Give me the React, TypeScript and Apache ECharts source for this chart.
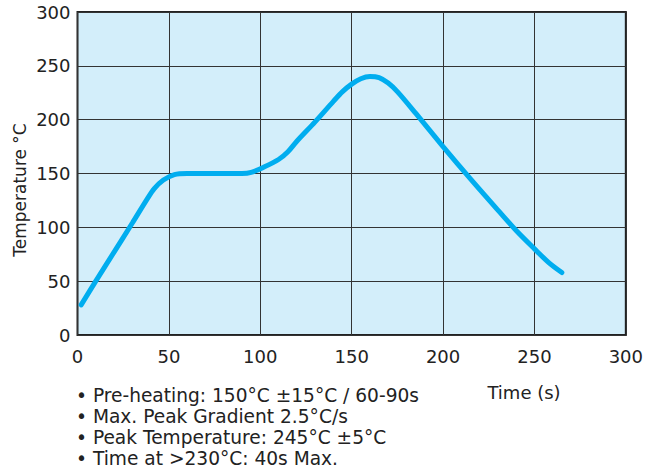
import React, { useEffect, useRef } from "react";
import * as echarts from "echarts";

const xTicks = [0, 50, 100, 150, 200, 250, 300];
const yTicks = [0, 50, 100, 150, 200, 250, 300];
const timeS = [2, 10, 20, 30, 38, 42, 47, 53, 60, 90, 95, 102, 110, 115, 120, 130, 140, 145, 150, 155, 160, 165, 170, 175, 185, 200, 215, 230, 240, 250, 258, 265];
const tempC = [28, 50, 77, 104, 126, 136, 144, 149, 150, 150, 151, 156, 163, 170, 180, 198, 217, 226, 233, 238, 240, 239, 234, 226, 206, 175, 145, 116, 97, 80, 67, 58];
const notes = [
  "• Pre-heating: 150°C ±15°C / 60-90s",
  "• Max. Peak Gradient 2.5°C/s",
  "• Peak Temperature: 245°C ±5°C",
  "• Time at >230°C: 40s Max.",
];
const xName = "Time (s)";
const yName = "Temperature °C";

export default function App() {
  const ref = useRef<HTMLDivElement>(null);
  useEffect(() => {
    const chart = echarts.init(ref.current!, null, { renderer: "svg" });
    const font = "DejaVu Sans, Verdana, sans-serif";
    chart.setOption({
      animation: false,
      grid: {
        left: 77.5,
        right: 17.5,
        top: 12,
        bottom: 136,
        show: true,
        backgroundColor: "#d3eefa",
        borderColor: "#222",
        borderWidth: 2,
        z: 0,
      },
      xAxis: {
        type: "value",
        min: xTicks[0],
        max: xTicks[xTicks.length - 1],
        interval: 50,
        axisLine: { show: false },
        axisTick: { show: false },
        axisLabel: { color: "#222", fontSize: 18, fontFamily: font, margin: 12 },
        splitLine: { show: true, lineStyle: { color: "#333", width: 1 } },
      },
      yAxis: {
        type: "value",
        min: yTicks[0],
        max: yTicks[yTicks.length - 1],
        interval: 50,
        axisLine: { show: false },
        axisTick: { show: false },
        axisLabel: { color: "#222", fontSize: 18, fontFamily: font, margin: 7 },
        splitLine: { show: true, lineStyle: { color: "#333", width: 1 } },
      },
      series: [
        {
          type: "line",
          data: timeS.map((t, i) => [t, tempC[i]]),
          smooth: 0.3,
          showSymbol: false,
          lineStyle: { color: "#00adef", width: 5, cap: "round" },
          z: 5,
        },
      ],
      graphic: [
        {
          type: "text",
          x: 20,
          y: 190,
          rotation: Math.PI / 2,
          style: {
            text: yName,
            fill: "#222",
            font: `17px ${font}`,
            align: "center",
            verticalAlign: "middle",
          },
        },
        {
          type: "text",
          x: 524,
          y: 392,
          style: {
            text: xName,
            fill: "#222",
            font: `18px ${font}`,
            align: "center",
            verticalAlign: "middle",
          },
        },
        ...notes.map((n, i) => ({
          type: "text",
          x: 76,
          y: 395 + i * 21,
          style: {
            text: n,
            fill: "#222",
            font: `18.6px ${font}`,
            align: "left",
            verticalAlign: "middle",
          },
        })),
      ],
    });
    return () => chart.dispose();
  }, []);
  return <div ref={ref} style={{ width: 646, height: 471, position: "absolute", left: 0, top: 0 }} />;
}
